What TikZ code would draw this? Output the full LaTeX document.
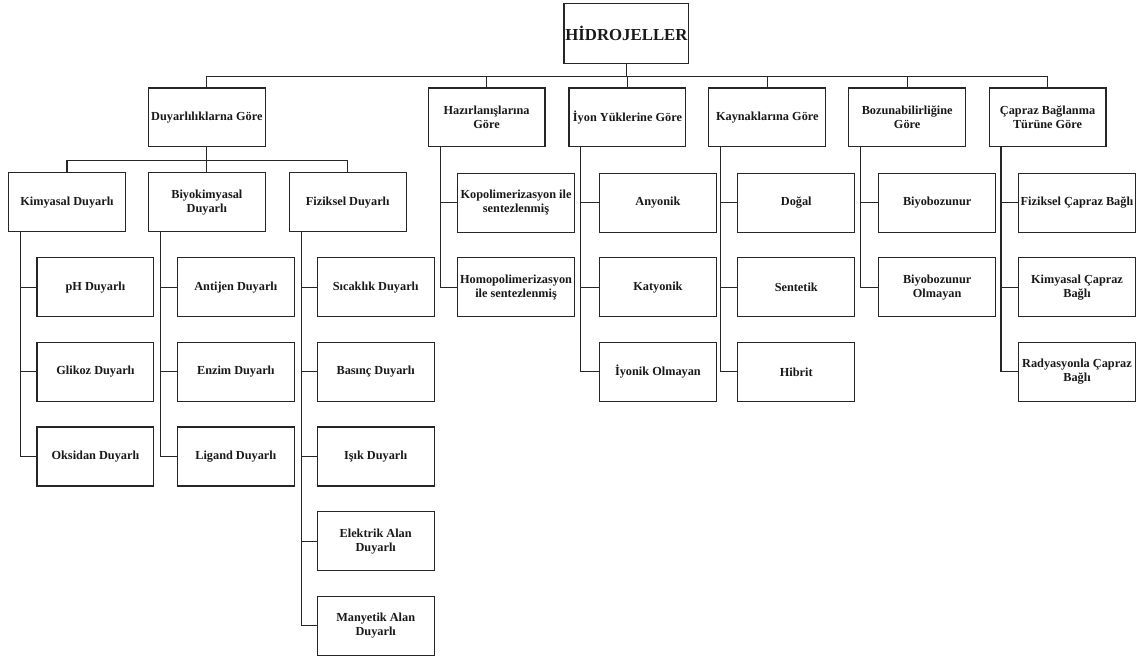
\documentclass[tikz,border=0pt]{standalone}
\usepackage{fontspec}
\setmainfont{Liberation Serif}
\usetikzlibrary{calc}
\begin{document}
\begin{tikzpicture}[x=1pt,y=-1pt,
  every path/.style={line width=1.1pt,draw=black!85},
  box/.style={draw=black!85,line width=1.1pt,rectangle,minimum width=117pt,minimum height=59pt,
    align=center,inner sep=1pt,font=\bfseries\fontsize{12.3}{14}\selectfont,text=black!90},
  rootbox/.style={box,minimum width=125pt,minimum height=60pt,font=\bfseries\fontsize{16.8}{18}\selectfont}]
\useasboundingbox (0,0) rectangle (1143,661);
\fill[white] (0,0) rectangle (1143,661);

% root
\node[rootbox] (root) at (626.5,33) {HİDROJELLER};
\coordinate (bus) at (0,76);
\coordinate (busb) at (0,160);

% level 1
\node[box] (duy) at (206.5,117) {Duyarlılıklarna Göre};
\node[box] (haz) at (486.5,117) {Hazırlanışlarına\\Göre};
\node[box] (iyon) at (627.5,117) {İyon Yüklerine Göre};
\node[box] (kay) at (767.5,117) {Kaynaklarına Göre};
\node[box] (boz) at (907.5,117) {Bozunabilirliğine\\Göre};
\node[box] (cap) at (1048,117) {Çapraz Bağlanma\\Türüne Göre};

\foreach \c in {duy,haz,iyon,kay,boz,cap}{
  \draw (root.south) |- (\c.north |- bus) -- (\c.north);
}

% level 2 under Duyarlılıklarna
\node[box] (kim) at (66.5,202) {Kimyasal Duyarlı};
\node[box] (biy) at (206.5,202) {Biyokimyasal\\Duyarlı};
\node[box] (fiz) at (347.5,202) {Fiziksel Duyarlı};
\foreach \c in {kim,biy,fiz}{
  \draw (duy.south) |- (\c.north |- busb) -- (\c.north);
}

% grandchildren
\node[box] (ph) at (95,287) {pH Duyarlı};
\node[box] (gli) at (95,371.7) {Glikoz Duyarlı};
\node[box] (oks) at (95,456.4) {Oksidan Duyarlı};

\node[box] (ant) at (235.5,287) {Antijen Duyarlı};
\node[box] (enz) at (235.5,371.7) {Enzim Duyarlı};
\node[box] (lig) at (235.5,456.4) {Ligand Duyarlı};

\node[box] (sic) at (375.5,287) {Sıcaklık Duyarlı};
\node[box] (bas) at (375.5,371.7) {Basınç Duyarlı};
\node[box] (isik) at (375.5,456.4) {Işık Duyarlı};
\node[box] (ele) at (375.5,541.1) {Elektrik Alan\\Duyarlı};
\node[box] (man) at (375.5,625.8) {Manyetik Alan\\Duyarlı};

\node[box] (kop) at (516,202.5) {Kopolimerizasyon ile\\sentezlenmiş};
\node[box] (hom) at (516,287) {Homopolimerizasyon\\ile sentezlenmiş};

\node[box] (any) at (658,202.5) {Anyonik};
\node[box] (kat) at (658,287) {Katyonik};
\node[box] (iyo) at (658,371.7) {İyonik Olmayan};

\node[box] (dog) at (796.5,202.5) {Doğal};
\node[box] (sen) at (796.5,287) {Sentetik};
\node[box] (hib) at (796.5,371.7) {Hibrit};

\node[box] (bbz) at (937.5,202.5) {Biyobozunur};
\node[box] (bbo) at (937.5,287) {Biyobozunur\\Olmayan};

\node[box] (fcb) at (1077.5,202.5) {Fiziksel Çapraz Bağlı};
\node[box] (kcb) at (1077.5,287) {Kimyasal Çapraz\\Bağlı};
\node[box] (rcb) at (1077.5,371.7) {Radyasyonla Çapraz\\Bağlı};

% side connectors
\foreach \p/\cs in {kim/{ph,gli,oks},biy/{ant,enz,lig},fiz/{sic,bas,isik,ele,man},
    haz/{kop,hom},iyon/{any,kat,iyo},kay/{dog,sen,hib},boz/{bbz,bbo},cap/{fcb,kcb,rcb}}{
  \foreach \c in \cs {
    \draw ([xshift=12.5pt]\p.south west) |- (\c.west);
  }
}
\end{tikzpicture}
\end{document}
